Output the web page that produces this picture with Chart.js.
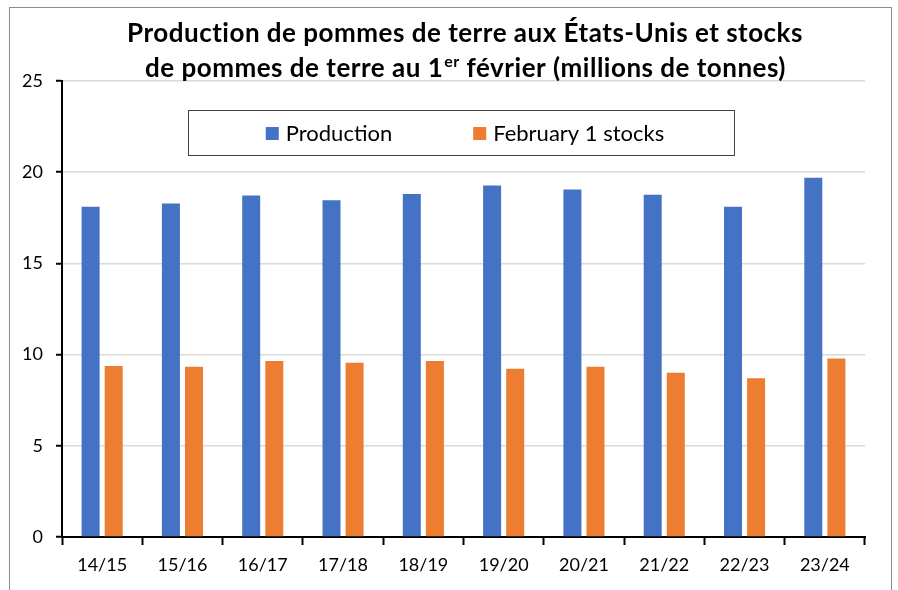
<!DOCTYPE html>
<html>
<head>
<meta charset="utf-8">
<script src="https://cdn.jsdelivr.net/npm/chart.js@4.4.1/dist/chart.umd.min.js"></script>
<style>
  html, body { margin: 0; padding: 0; background: #fff; }
  #wrap { width: 898px; height: 590px; }
</style>
</head>
<body>
<div id="wrap"><canvas id="chart" width="898" height="590"></canvas></div>
<script>
// seasons (x axis)
var seasons = ['14/15', '15/16', '16/17', '17/18', '18/19', '19/20', '20/21', '21/22', '22/23', '23/24'];
// millions de tonnes
var production = [18.10, 18.28, 18.72, 18.46, 18.81, 19.27, 19.05, 18.76, 18.10, 19.70];
var febStocks = [9.38, 9.34, 9.65, 9.56, 9.65, 9.22, 9.33, 9.01, 8.70, 9.78];
var yTicks = [0, 5, 10, 15, 20, 25];

var titleLine1 = 'Production de pommes de terre aux États-Unis et stocks';
var titleLine2a = 'de pommes de terre au 1';
var titleSup = 'er';
var titleLine2b = ' février (millions de tonnes)';

var FONT = 'Lato, "Open Sans", sans-serif';

// frame + title (with the superscript) + boxed legend, drawn by hand
var decorPlugin = {
  id: 'decor',
  beforeDraw: function(chart) {
    var ctx = chart.ctx;
    ctx.save();
    ctx.fillStyle = '#fff';
    ctx.fillRect(0, 0, chart.width, chart.height);
    ctx.strokeStyle = '#8c8c8c';
    ctx.lineWidth = 1;
    ctx.strokeRect(9.5, 7.5, 882, 700);
    ctx.restore();
  },
  afterDraw: function(chart) {
    var ctx = chart.ctx;
    var cx = 465;
    ctx.save();
    ctx.fillStyle = '#000';
    ctx.textBaseline = 'alphabetic';
    ctx.letterSpacing = '0.5px';
    // title line 1
    ctx.font = 'bold 26px ' + FONT;
    ctx.textAlign = 'center';
    ctx.fillText(titleLine1, cx, 42);
    // title line 2 with superscript
    ctx.textAlign = 'left';
    var wA = ctx.measureText(titleLine2a).width;
    var wB = ctx.measureText(titleLine2b).width;
    ctx.font = 'bold 16px ' + FONT;
    var wS = ctx.measureText(titleSup).width;
    var x = cx - (wA + wS + wB) / 2;
    ctx.font = 'bold 26px ' + FONT;
    ctx.fillText(titleLine2a, x, 77);
    ctx.font = 'bold 16px ' + FONT;
    ctx.fillText(titleSup, x + wA + 1, 67);
    ctx.font = 'bold 26px ' + FONT;
    ctx.fillText(titleLine2b, x + wA + wS + 1, 77);
    ctx.letterSpacing = '0px';

    // legend box
    ctx.strokeStyle = '#404040';
    ctx.lineWidth = 1;
    ctx.strokeRect(188.5, 110.5, 546, 45);
    ctx.font = '22px ' + FONT;
    var ds = chart.data.datasets;
    var sq = 13, gapTxt = 7, gapItem = 81;
    var widths = ds.map(function(d) { return ctx.measureText(d.label).width; });
    var total = 0;
    widths.forEach(function(w, i) { total += sq + gapTxt + w + (i < widths.length - 1 ? gapItem : 0); });
    var lx = 465 - total / 2;
    ctx.textBaseline = 'middle';
    ds.forEach(function(d, i) {
      ctx.fillStyle = d.backgroundColor;
      ctx.fillRect(lx, 127, sq, sq);
      ctx.fillStyle = '#000';
      ctx.fillText(d.label, lx + sq + gapTxt, 134);
      lx += sq + gapTxt + widths[i] + gapItem;
    });
    ctx.restore();
  }
};

new Chart(document.getElementById('chart'), {
  type: 'bar',
  data: {
    labels: seasons,
    datasets: [
      { label: 'Production', data: production, backgroundColor: '#4472C4', borderWidth: 0 },
      { label: 'February 1 stocks', data: febStocks, backgroundColor: '#ED7D31', borderWidth: 0 }
    ]
  },
  options: {
    responsive: false,
    animation: false,
    layout: { padding: { top: 81, right: 33, bottom: 0, left: 0 } },
    datasets: { bar: { categoryPercentage: 0.575, barPercentage: 0.78 } },
    plugins: {
      legend: { display: false },
      title: { display: false },
      tooltip: { enabled: false }
    },
    scales: {
      x: {
        afterFit: function(s) { s.height = 53; },
        grid: {
          offset: true,
          drawOnChartArea: false,
          drawTicks: true,
          tickLength: 8,
          tickColor: '#000',
          tickWidth: 2
        },
        border: { color: '#000', width: 2 },
        ticks: { color: '#000', padding: 9, font: { family: FONT, size: 18 } }
      },
      y: {
        min: 0,
        max: 25,
        afterFit: function(s) { s.width = 62; },
        afterBuildTicks: function(s) { s.ticks = yTicks.map(function(v) { return { value: v }; }); },
        grid: {
          color: '#d9d9d9',
          lineWidth: 1.5,
          tickLength: 6,
          tickColor: '#000',
          tickWidth: 2
        },
        border: { color: '#000', width: 2 },
        ticks: { color: '#000', padding: 13, font: { family: FONT, size: 18 } }
      }
    }
  },
  plugins: [decorPlugin]
});
</script>
</body>
</html>
